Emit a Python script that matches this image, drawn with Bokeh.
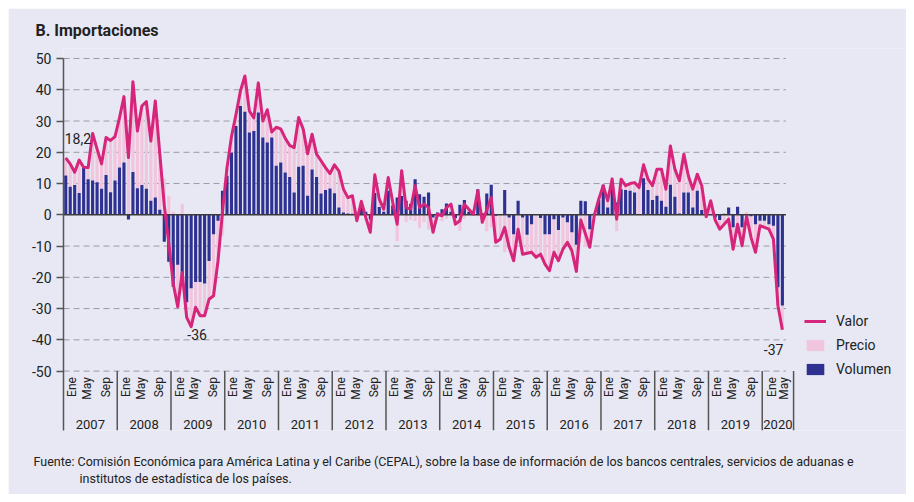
import math
from bokeh.plotting import figure
from bokeh.models import ColumnDataSource, Legend, LegendItem, Title, Range1d
from bokeh.core.properties import value
from bokeh.embed import file_html
from bokeh.resources import INLINE

FONT = "Roboto"
BG = "#e7e8f3"
C_VALOR = "#d6257a"
C_PRECIO = "#f1c5dd"
C_VOL = "#2e3192"
TXT = "#222222"
AXC = "#555555"

# ---------------- data (monthly, Jan 2007 - May 2020) ----------------
years = list(range(2007, 2021))
months_in_year = [12] * 13 + [5]
axis_months = [12] * 13 + [7]          # 2020 box on the axis spans 7 slots
month_names = ["Ene", "May", "Sep"]
y_ticks = [-50, -40, -30, -20, -10, 0, 10, 20, 30, 40, 50]

valor = [
    18.2, 16.3, 13.6, 17.5, 15.2, 15.1, 26.0, 21.0, 16.3, 24.7, 23.8, 25.0,      # 2007
    31.0, 37.8, 18.3, 42.6, 26.8, 34.8, 36.2, 23.6, 36.4, 19.5, 3.0, -9.0,       # 2008
    -22.0, -29.4, -18.5, -32.8, -35.8, -29.6, -32.3, -32.3, -27.0, -25.9, -14.7, 1.0,  # 2009
    15.0, 25.0, 32.0, 39.6, 44.4, 33.2, 31.0, 42.2, 30.0, 33.6, 26.5, 28.0,      # 2010
    27.5, 24.5, 22.2, 21.5, 31.1, 27.5, 19.5, 25.8, 19.4, 17.3, 15.1, 13.2,      # 2011
    16.0, 14.0, 8.2, 5.5, 6.1, -1.9, 4.3, -0.9, -5.6, 12.8, 5.0, 1.8,            # 2012
    11.9, 4.0, -3.0, 14.1, 2.3, 1.8, 9.3, 2.3, 3.4, 2.3, -5.6, 0.2,              # 2013
    -0.3, 2.3, 3.4, -3.0, -1.9, 3.4, 1.8, 0.2, 7.7, -2.4, 1.5, 5.5,              # 2014
    -8.8, -7.8, -4.0, -10.4, -14.7, -4.6, -12.6, -12.3, -12.0, -13.6, -12.6, -15.8,  # 2015
    -17.9, -12.0, -14.7, -11.0, -8.8, -11.5, -18.1, -1.7, -6.0, -10.4, -0.3, 5.0,    # 2016
    9.3, 4.5, 11.5, -1.4, 11.4, 9.3, 10.0, 10.3, 8.7, 16.0, 11.4, 9.3,           # 2017
    14.6, 14.6, 8.2, 22.0, 14.6, 10.9, 19.4, 12.5, 8.2, 13.0, 9.3, -0.6,         # 2018
    4.5, -1.7, -4.6, -3.0, -1.4, -11.0, -3.0, -9.9, -0.5, -7.2, -12.0, -3.5,     # 2019
    -4.0, -4.6, -7.8, -29.0, -36.8,                                              # 2020
]

volumen = [
    12.6, 9.0, 9.5, 7.0, 15.1, 11.4, 11.0, 10.4, 8.3, 12.7, 7.2, 11.0,
    15.1, 16.7, -1.5, 13.7, 8.5, 9.5, 8.3, 4.5, 5.5, 1.6, -8.6, -15.0,
    -23.0, -16.0, -22.0, -28.0, -23.5, -21.5, -21.5, -22.0, -14.8, -6.2, -1.9, 7.7,
    12.5, 19.9, 28.4, 34.8, 33.0, 26.3, 26.8, 32.7, 24.7, 23.1, 24.7, 15.7,
    16.7, 13.5, 12.1, 7.1, 15.4, 15.7, 6.1, 14.5, 12.1, 6.8, 7.9, 8.4,
    6.9, 2.3, 0.7, 0.4, 0.3, -0.8, 2.5, 1.0, -1.5, 7.0, 2.5, 1.0,
    7.7, 3.0, 5.5, 6.0, 4.5, 3.5, 11.4, 6.6, 5.8, 7.1, -0.9, 0.7,
    1.8, 3.6, 1.0, -1.0, 3.2, 4.7, 1.0, 0.5, 8.2, 0.5, 6.8, 9.6,
    -0.3, 0.2, 7.9, -0.9, -6.2, 4.5, -0.9, -6.4, -3.0, 0.2, -1.0, -6.2,
    -6.2, -1.4, -4.9, -0.9, -2.4, -5.6, -9.6, 4.5, 4.3, -4.6, 0.3, 4.7,
    9.6, 2.3, 8.7, 3.9, 8.2, 7.9, 7.7, 7.1, 0.2, 11.7, 7.9, 4.7,
    6.1, 4.5, 2.6, 9.6, 5.8, 0.4, 7.1, 7.1, 2.3, 7.7, 1.5, 0.5,
    0.2, -0.9, -1.7, 0.3, 2.3, -4.0, 2.6, -4.0, -1.4, -0.5, -3.0, -1.9,
    -1.9, -3.0, -3.5, -23.2, -29.0,
]

precio = [
    5.6, 7.3, 4.1, 10.5, 0.1, 3.7, 15.0, 10.6, 8.0, 12.0, 16.6, 14.0,
    15.9, 21.1, 19.8, 28.9, 18.3, 25.3, 27.9, 19.1, 30.9, 17.9, 11.6, 6.0,
    1.0, -13.4, 3.5, -4.8, -12.3, -8.1, -10.8, -10.3, -12.2, -19.7, -12.8, -6.7,
    2.5, 5.1, 3.6, 4.8, 11.4, 6.9, 4.2, 9.5, 5.3, 10.5, 1.8, 12.3,
    10.8, 11.0, 10.1, 14.4, 15.7, 11.8, 13.4, 11.3, 7.3, 10.5, 7.2, 4.8,
    9.1, 11.7, 7.5, 5.1, 5.8, -1.1, 1.8, -1.9, -4.1, 5.8, 2.5, 0.8,
    4.2, 1.0, -8.5, 8.1, -2.2, -1.7, -2.1, -4.3, -2.4, -4.8, -4.7, -0.5,
    -2.1, -1.3, 2.4, -2.0, -5.1, -1.3, 0.8, -0.3, -0.5, -2.9, -5.3, -4.1,
    -8.5, -8.0, -11.9, -9.5, -8.5, -9.1, -11.7, -5.9, -9.0, -13.8, -11.6, -9.6,
    -11.7, -10.6, -9.8, -10.1, -6.4, -5.9, -8.5, -6.2, -10.3, -5.8, -0.6, 0.3,
    -0.3, 2.2, 2.8, -5.3, 3.2, 1.4, 2.3, 3.2, 8.5, 4.3, 3.5, 4.6,
    8.5, 10.1, 5.6, 12.4, 8.8, 10.5, 12.3, 5.4, 5.9, 5.3, 7.8, -1.1,
    4.3, -0.8, -2.9, -3.3, -3.7, -7.0, -5.6, -5.9, 0.9, -6.7, -9.0, -1.6,
    -2.1, -1.6, -4.3, -5.8, -7.8,
]

ann_index = [0, 28, 160]
ann_text = ["18,2", "-36", "-37"]

title_text = "B. Importaciones"
note_1 = ("Fuente: Comisión Económica para América Latina y el Caribe (CEPAL), sobre la base de "
          "información de los bancos centrales, servicios de aduanas e")
note_2 = "institutos de estadística de los países."

# ---------------- derived layout ----------------
n = len(valor)
xs = [i + 0.5 for i in range(n)]
pre_bottom = [v if v * p > 0 else 0.0 for v, p in zip(volumen, precio)]
pre_top = [b + p for b, p in zip(pre_bottom, precio)]

src = ColumnDataSource(dict(x=xs, valor=valor, vol=volumen, vol0=[0.0] * n,
                            pb=pre_bottom, pt=pre_top))

year_start = []
s = 0
for m in axis_months:
    year_start.append(s)
    s += m
x_end = s  # 163

W, H = 898, 486
LEFT, TOP, BOTTOM = 55, 40, 64
px_per_month = 4.479
px_per_unit = 372.0 / 119.0            # value 50 sits 50 px below the figure top
y_top = 50 + (50 - TOP) / px_per_unit

p = figure(width=W, height=H, output_backend="svg", toolbar_location=None,
           x_range=Range1d(0, (W - LEFT) / px_per_month), y_range=Range1d(-69, y_top),
           x_axis_location=None, min_border=0, min_border_left=LEFT,
           min_border_top=TOP, min_border_bottom=BOTTOM,
           background_fill_color=BG, border_fill_color=BG, outline_line_color=None,
           margin=(8, 8, 8, 8))
p.grid.visible = False

# gridlines (dashed) and zero line, ending at the last data month
grid_y = [t for t in y_ticks if t != 0]
p.segment(x0=[0] * len(grid_y), x1=[n + 0.3] * len(grid_y), y0=grid_y, y1=grid_y,
          line_color="#9b9ba6", line_width=1, line_dash="6 4")

pre_r = p.vbar(x="x", width=0.7, bottom="pb", top="pt", source=src,
               fill_color=C_PRECIO, line_color=None)
vol_r = p.vbar(x="x", width=0.7, bottom="vol0", top="vol", source=src,
               fill_color=C_VOL, line_color=None)
p.segment(x0=[0], x1=[n + 0.3], y0=[0], y1=[0], line_color="#3a3a3a", line_width=1.5)
line_r = p.line(x="x", y="valor", source=src, line_color=C_VALOR, line_width=3,
                line_join="round")

# y axis
ax = p.yaxis[0]
ax.ticker = y_ticks
ax.bounds = (-69, 50)
ax.major_label_overrides = {t: str(t) for t in y_ticks}
ax.major_tick_out = 7
ax.major_tick_in = 0
ax.minor_tick_line_color = None
ax.axis_line_color = AXC
ax.axis_line_width = 1.5
ax.major_tick_line_color = AXC
ax.major_tick_line_width = 1.5
ax.major_label_standoff = 5
ax.major_label_text_font = FONT
ax.major_label_text_font_size = "14px"
ax.major_label_text_color = TXT

# category axis (months / years) below the -50 line
month_offset = {"Ene": 1.9, "May": 5.2, "Sep": 9.4}
month_offset_last = {"Ene": 2.2, "May": 4.8}
mx, mt = [], []
for yr, st, cnt in zip(years, year_start, months_in_year):
    offs = month_offset if cnt == 12 else month_offset_last
    for name in month_names:
        if name in offs:
            mx.append(st + offs[name])
            mt.append(name)
p.text(x=mx, y=[-50] * len(mx), text=mt, angle=math.pi / 2, y_offset=6,
       text_align="right", text_baseline="middle", text_font=value(FONT),
       text_font_size="12px", text_color=TXT)

yc = [st + m / 2 for st, m in zip(year_start, axis_months)]
p.text(x=yc, y=[-50] * len(yc), text=[str(y) for y in years], y_offset=53,
       text_align="center", text_baseline="middle", text_font=value(FONT),
       text_font_size="13px", text_color=TXT)

sep_x = year_start[1:] + [x_end]
p.segment(x0=sep_x, x1=sep_x, y0=[-50] * len(sep_x), y1=[-69] * len(sep_x),
          line_color=AXC, line_width=1.5)

# value annotations
p.text(x=[xs[ann_index[0]]], y=[valor[ann_index[0]]], text=[ann_text[0]],
       x_offset=-1, y_offset=-19, text_align="left", text_baseline="middle",
       text_font=value(FONT), text_font_size="14px", text_color=TXT)
p.text(x=[xs[ann_index[1]]], y=[valor[ann_index[1]]], text=[ann_text[1]],
       x_offset=6, y_offset=8, text_align="center", text_baseline="middle",
       text_font=value(FONT), text_font_size="14px", text_color=TXT)
p.text(x=[xs[ann_index[2]]], y=[valor[ann_index[2]]], text=[ann_text[2]],
       x_offset=1, y_offset=20, text_align="right", text_baseline="middle",
       text_font=value(FONT), text_font_size="14px", text_color=TXT)

# title
p.title.text = title_text
p.title.align = "left"
p.title.offset = 27 - LEFT
p.title.text_font = FONT
p.title.text_font_size = "16px"
p.title.text_font_style = "bold"
p.title.text_color = TXT
p.title.standoff = 17

# legend (inside the frame, right of the data)
legend = Legend(items=[LegendItem(label="Valor", renderers=[line_r]),
                       LegendItem(label="Precio", renderers=[pre_r]),
                       LegendItem(label="Volumen", renderers=[vol_r])],
                location=(796 - LEFT, (H - BOTTOM) - 369), orientation="vertical",
                background_fill_alpha=0, border_line_color=None,
                padding=0, margin=0, spacing=8, glyph_width=22, glyph_height=14,
                label_height=14, label_standoff=10, label_text_font=FONT,
                label_text_font_size="14px", label_text_color=TXT)
p.add_layout(legend)

# source note
spacer = Title(text=" ", text_font_size="17px", standoff=0)
t1 = Title(text=note_1, align="left", offset=25 - LEFT, text_font=FONT,
           text_font_size="12.5px", text_font_style="normal", text_color=TXT, standoff=0)
t2 = Title(text=note_2, align="left", offset=71 - LEFT, text_font=FONT,
           text_font_size="12.5px", text_font_style="normal", text_color=TXT, standoff=1)
p.add_layout(spacer, "below")
p.add_layout(t1, "below")
p.add_layout(t2, "below")

open("out.html", "w").write(file_html(p, INLINE))
